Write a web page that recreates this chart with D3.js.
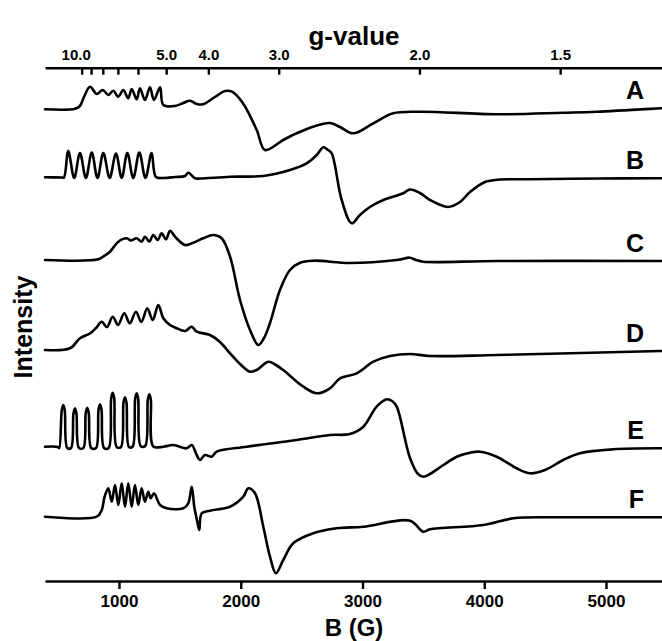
<!DOCTYPE html>
<html>
<head>
<meta charset="utf-8">
<script src="https://cdn.jsdelivr.net/npm/d3@7"></script>
<style>
  html, body { margin: 0; padding: 0; background: #fff; }
  svg { display: block; }
  text { font-family: "Liberation Sans", Arial, Helvetica, sans-serif; font-weight: bold; fill: #000; }
</style>
</head>
<body>
<script>
// ---------- data ----------
const B_TICKS = [1000, 2000, 3000, 4000, 5000];
const G_TICKS = [10, 9, 8, 7, 6, 5, 4, 3, 2, 1.5];
const G_LABELS = ["10.0", "", "", "", "", "5.0", "4.0", "3.0", "2.0", "1.5"];
const G_CONST = 6935;               // B(G) * g  (X-band, ~9.71 GHz)
const SERIES_NAMES = ["A", "B", "C", "D", "E", "F"];

// [B (G), stacked intensity (a.u.)]
const traceA = [
  [392,471.7],[638,472.2],[679,475],[712,484],[762,494.3],[817,487],[866,491],[912,486],
  [953,490.3],[994,484.3],[1035,491],[1076,482.7],[1104,492],[1145,481.7],[1172,492.7],
  [1213,481],[1254,493.7],[1287,481],[1337,493.7],[1364,476],[1460,475],[1528,478],
  [1583,480.3],[1638,477],[1690,476.7],[1788,484],[1871,490],[1928,489.3],[2018,477.7],
  [2131,451],[2199,431],[2349,441],[2459,447.7],[2593,454.3],[2733,458],[2815,454],
  [2924,447.7],[3089,457.7],[3251,467.7],[3472,469.3],[4102,466.7],[4647,468.3],
  [4924,469.3],[5444,472.7],[5460,472.8]
];
const traceB = [
  [392,403.7],[532,403.5],[548,403.5],[583,430],[632,403],[679,428],[728,403],[776,428.5],
  [823,403],[871,428],[923,403],[975,427.5],[1022,403],[1068,428],[1117,403],[1167,428.5],
  [1217,403],[1268,428],[1303,404],[1364,403],[1460,404],[1542,405],[1569,408.3],
  [1624,402.7],[1665,402.5],[1912,404.3],[2185,405],[2404,411],[2541,417.7],[2624,426],
  [2678,433.7],[2717,431],[2747,427.7],[2829,381],[2911,357.7],[2979,366],[3061,374],
  [3171,381],[3335,387.7],[3390,391.5],[3472,388],[3554,381],[3702,374],[3801,379],
  [3883,389],[4006,399],[4129,401.5],[4376,401.7],[4951,402.5],[5444,402.7],[5460,402.7]
];
const traceC = [
  [392,321],[830,321.7],[877,325],[926,329.3],[994,339.3],[1063,342.7],[1098,340.5],
  [1145,342.7],[1186,339.3],[1213,344.3],[1249,339.3],[1281,346],[1318,341],[1350,347.7],
  [1386,341.7],[1419,350.3],[1460,344.3],[1542,336],[1610,338.3],[1692,342.7],[1774,346],
  [1843,342.7],[1912,324.3],[1994,281],[2076,251],[2144,236],[2191,243],[2240,258],
  [2322,291],[2404,311],[2487,318.3],[2596,320.3],[2897,318],[3281,321],[3390,323.3],
  [3439,321],[3500,319.3],[4102,320],[5444,320],[5460,320]
];
const traceD = [
  [392,231],[597,232.7],[679,242.7],[762,247.7],[811,253],[858,259.3],[901,254],[948,264.3],
  [992,256],[1043,267.7],[1088,257.7],[1139,269.3],[1183,259],[1232,272.7],[1276,261],
  [1323,276],[1364,262.7],[1419,256],[1474,252.7],[1542,250],[1597,254.3],[1638,249.3],
  [1747,246],[1829,239],[1912,227.7],[1994,217],[2076,209.3],[2131,211],[2226,219.3],
  [2289,216],[2349,211],[2514,194.3],[2624,187.7],[2733,192.7],[2815,202.7],[2952,207.7],
  [3089,219.3],[3226,225],[3390,227],[3554,225],[4102,226],[5444,230],[5460,230]
];
const traceE = [
  [392,134.3],[499,134],[509,133],[530,171],[542,176],[554,171],[575,133],
  [606,133],[626,167.7],[638,172.7],[650,167.7],[671,133],
  [707,133],[727,168.3],[739,173.3],[751,168.3],[772,133],
  [811,133],[832,171.7],[844,176.7],[856,171.7],[877,133],
  [915,133],[936,183.3],[948,188.3],[960,183.3],[981,134],
  [1016,134],[1037,178.7],[1049,183.7],[1061,178.7],[1082,134],
  [1112,134.5],[1133,182.7],[1145,187.7],[1157,182.7],[1178,135],
  [1215,135],[1237,181.7],[1249,186.7],[1261,181.7],[1282,134.5],
  [1364,134.3],[1446,136],[1556,132.7],[1597,136],[1638,126],[1665,121],[1706,126],
  [1761,124.3],[1802,129.3],[2049,134.3],[2459,141],[2733,146],[2897,147],[3007,154.3],
  [3116,174.3],[3199,181.7],[3243,180],[3281,174.3],[3390,123],[3456,107],[3500,104.3],
  [3554,107],[3664,116],[3774,124.3],[3883,128.3],[3965,129.3],[4102,124.3],[4266,112.7],
  [4376,107.7],[4499,111],[4649,121],[4786,127.7],[5060,131.7],[5444,132.7],[5460,132.7]
];
const traceF = [
  [392,64.3],[817,64.3],[858,71],[881,84],[912,92.7],[940,79.3],[967,96],[994,76],
  [1022,97.7],[1049,74.3],[1076,97.7],[1104,74.3],[1131,96],[1158,76],[1186,92.7],
  [1213,79.3],[1240,89.3],[1260,82.7],[1287,87.7],[1337,76],[1392,72.7],[1528,72.7],
  [1569,77.7],[1597,94.3],[1618,74.3],[1640,61],[1659,51],[1679,67.7],[1747,70.3],
  [1912,74.3],[2021,84.3],[2062,92.7],[2117,87.7],[2185,54.3],[2240,24.3],[2289,7.7],
  [2349,21],[2431,37.7],[2596,47.7],[2788,52.7],[3007,54.3],[3390,60.3],[3500,49.3],
  [3554,51.7],[3992,56],[4239,62.7],[4649,63.7],[5444,63.7],[5460,63.7]
];
const TRACES = [traceA, traceB, traceC, traceD, traceE, traceF];

// ---------- layout ----------
const W = 662, H = 641;
const svg = d3.select("body").append("svg").attr("width", W).attr("height", H);

const x = d3.scaleLinear().domain([392, 5460]).range([45, 662]);
const y = d3.scaleLinear().domain([0, 513.3]).range([581, 67.7]);

// bottom axis
const gb = svg.append("g")
  .attr("transform", `translate(0,${y(0)})`)
  .call(d3.axisBottom(x).tickValues(B_TICKS).tickSize(8).tickSizeOuter(0).tickPadding(6).tickFormat(d3.format("d")));
gb.select(".domain").attr("stroke", "#000").attr("stroke-width", 2.6);
gb.selectAll(".tick line").attr("stroke", "#000").attr("stroke-width", 2.4);
gb.selectAll(".tick text").style("font-size", "17px").style("font-weight", "bold").attr("fill", "#000");

// top axis (g-value), ticks inward
const gt = svg.append("g")
  .attr("transform", `translate(0,${y(513.3)})`)
  .call(d3.axisTop(x).tickValues(G_TICKS.map(g => G_CONST / g)).tickSize(-7).tickSizeOuter(0)
        .tickPadding(8).tickFormat((d, i) => G_LABELS[i]));
gt.select(".domain").attr("stroke", "#000").attr("stroke-width", 2.6);
gt.selectAll(".tick line").attr("stroke", "#000").attr("stroke-width", 2.4);
gt.selectAll(".tick text").style("font-size", "15px").style("font-weight", "bold").attr("fill", "#000")
  .attr("dx", (d, i) => i === 0 ? -6 : 0);

// axis titles
svg.append("text").attr("x", 354).attr("y", 45).attr("text-anchor", "middle")
  .style("font-size", "26px").text("g-value");
svg.append("text").attr("x", 354).attr("y", 636).attr("text-anchor", "middle")
  .style("font-size", "24px").text("B (G)");
svg.append("text").attr("transform", "translate(32,327) rotate(-90)").attr("text-anchor", "middle")
  .style("font-size", "25px").text("Intensity");

// traces
const line = d3.line().x(d => x(d[0])).y(d => y(d[1])).curve(d3.curveCatmullRom.alpha(0.5));
svg.append("g").selectAll("path").data(TRACES).join("path")
  .attr("d", line).attr("fill", "none").attr("stroke", "#000")
  .attr("stroke-width", 2.6).attr("stroke-linejoin", "round").attr("stroke-linecap", "round");

// series labels
svg.append("g").selectAll("text").data(TRACES).join("text")
  .attr("x", 644).attr("y", d => y(d[d.length - 1][1]) - 9)
  .attr("text-anchor", "end").style("font-size", "25px")
  .text((d, i) => SERIES_NAMES[i]);
</script>
</body>
</html>
